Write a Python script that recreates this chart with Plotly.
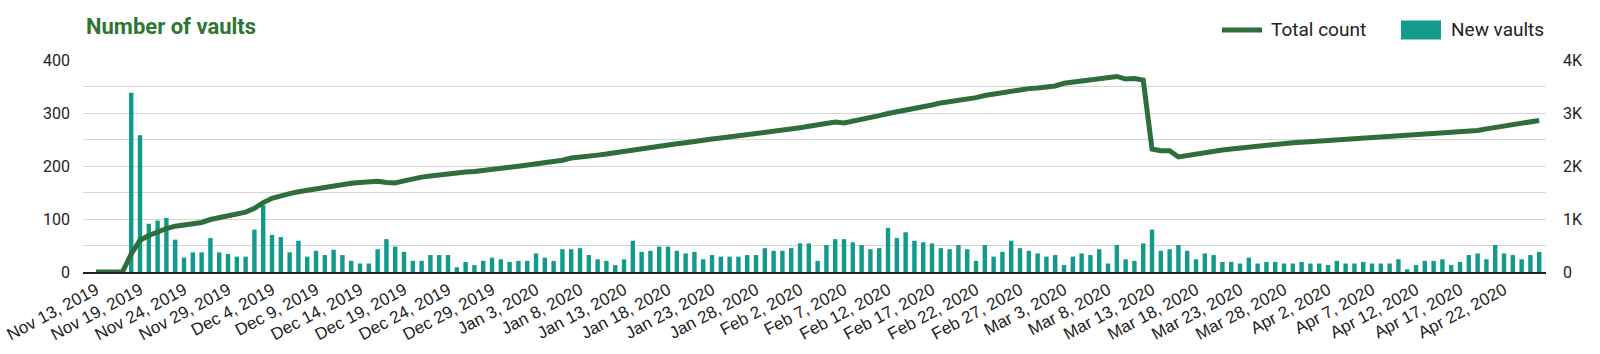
import plotly.graph_objects as go
import pandas as pd

# ---- data ----
dates = ["2019-11-13"] + pd.date_range("2019-11-15", "2020-04-26").strftime("%Y-%m-%d").tolist()

new_vaults = [
    0, 0, 0, 0, 338, 258, 91, 97, 102, 61,
    27, 37, 37, 64, 37, 34, 29, 29, 80, 126,
    70, 66, 37, 59, 29, 40, 32, 42, 32, 21,
    16, 16, 43, 62, 48, 38, 21, 21, 32, 32,
    32, 9, 19, 13, 21, 27, 24, 19, 21, 21,
    35, 27, 21, 43, 43, 45, 32, 24, 21, 13,
    24, 59, 38, 40, 48, 48, 40, 35, 38, 24,
    32, 29, 29, 29, 32, 32, 45, 40, 40, 45,
    54, 54, 21, 51, 62, 62, 56, 51, 43, 45,
    83, 64, 75, 59, 56, 54, 45, 43, 51, 43,
    21, 51, 29, 38, 59, 45, 40, 35, 29, 32,
    13, 29, 35, 32, 43, 16, 51, 24, 21, 54,
    80, 40, 43, 51, 40, 24, 35, 32, 19, 19,
    16, 27, 16, 19, 19, 16, 16, 19, 16, 16,
    13, 21, 16, 16, 19, 16, 16, 16, 24, 5,
    13, 21, 21, 24, 13, 19, 32, 35, 24, 51,
    35, 32, 24, 32, 38,
]

total_count = [
    0, 0, 0, 0, 340, 600, 690, 760, 820, 865,
    895, 920, 935, 990, 1030, 1060, 1090, 1130, 1200, 1310,
    1390, 1440, 1480, 1515, 1545, 1575, 1600, 1630, 1655, 1675,
    1690, 1700, 1710, 1690, 1680, 1720, 1760, 1790, 1810, 1830,
    1860, 1870, 1885, 1895, 1910, 1930, 1950, 1975, 1995, 2015,
    2030, 2050, 2075, 2110, 2150, 2175, 2190, 2205, 2225, 2250,
    2290, 2310, 2330, 2350, 2370, 2400, 2420, 2440, 2470, 2490,
    2510, 2530, 2550, 2570, 2590, 2620, 2640, 2650, 2660, 2700,
    2720, 2750, 2780, 2800, 2830, 2810, 2840, 2890, 2910, 2950,
    2990, 3020, 3040, 3080, 3110, 3150, 3190, 3210, 3250, 3270,
    3290, 3330, 3360, 3390, 3420, 3440, 3460, 3470, 3490, 3510,
    3560, 3580, 3600, 3630, 3660, 3680, 3690, 3640, 3650, 3620,
    2320, 2290, 2290, 2170, 2200, 2210, 2250, 2280, 2300, 2320,
    2340, 2360, 2380, 2400, 2420, 2430, 2440, 2450, 2460, 2470,
    2490, 2500, 2510, 2520, 2540, 2550, 2560, 2560, 2565, 2570,
    2580, 2590, 2600, 2610, 2620, 2630, 2650, 2670, 2700, 2730,
    2760, 2780, 2800, 2830, 2860,
]

tick_dates = dates[::5]
tick_labels = [pd.Timestamp(d).strftime("%b ") + str(pd.Timestamp(d).day) + pd.Timestamp(d).strftime(", %Y") for d in tick_dates]

left_ticks = [0, 100, 200, 300, 400]
left_minor = [50, 150, 250, 350]
right_ticks = [0, 1000, 2000, 3000, 4000]
right_tick_text = ["0", "1K", "2K", "3K", "4K"]

# ---- style ----
BAR_COLOR = "#129a8d"
LINE_COLOR = "#2e6d3c"
TITLE_COLOR = "#2e7536"
FONT = "Roboto"

W, H = 1600, 354
ML, MR, MT, MB = 83, 54, 60, 82
PW, PH = W - ML - MR, H - MT - MB


def px(x):
    return (x - ML) / PW


def py(y):
    return (H - MB - y) / PH


fig = go.Figure()
fig.add_trace(go.Bar(x=dates, y=new_vaults, marker_color=BAR_COLOR, marker_line_width=0,
                     name="New vaults", yaxis="y", showlegend=False))
fig.add_trace(go.Scatter(x=dates, y=total_count, mode="lines", name="Total count",
                         line=dict(color=LINE_COLOR, width=5), yaxis="y2", showlegend=False))

fig.update_layout(
    width=W, height=H,
    margin=dict(l=ML, r=MR, t=MT, b=MB, pad=0, autoexpand=False),
    paper_bgcolor="white", plot_bgcolor="white",
    font=dict(family=FONT, color="#222", size=15),
    bargap=0.5,
    xaxis=dict(type="category", range=[-1.48, 164.77], tickmode="array", automargin=False,
               tickvals=tick_dates, ticktext=tick_labels, tickangle=-28,
               tickfont=dict(family="Liberation Sans", size=17, color="#222"), showgrid=False,
               showline=True, linecolor="#222", linewidth=1.5, ticks=""),
    yaxis=dict(range=[0, 400], tickvals=left_ticks, showgrid=True, gridcolor="#d4d4d4", automargin=False,
               gridwidth=1.2, zeroline=False, tickfont=dict(size=16, color="#222"),
               ticks="", ticklabelstandoff=12,
               minor=dict(tickvals=left_minor, showgrid=True, gridcolor="#d4d4d4", gridwidth=1.2)),
    yaxis2=dict(range=[0, 4000], tickvals=right_ticks, ticktext=right_tick_text, overlaying="y",
                side="right", showgrid=False, zeroline=False, tickfont=dict(size=16, color="#222"),
                ticks="", ticklabelstandoff=16, automargin=False),
    showlegend=False,
)

# title
fig.add_annotation(text="<b>Number of vaults</b>", xref="paper", yref="paper", x=px(84), y=py(27),
                   xanchor="left", yanchor="middle", showarrow=False,
                   font=dict(family=FONT, size=22, color=TITLE_COLOR))

# custom legend
fig.add_shape(type="line", xref="paper", yref="paper", x0=px(1222), x1=px(1262), y0=py(30), y1=py(30),
              line=dict(color=LINE_COLOR, width=5))
fig.add_annotation(text="Total count", xref="paper", yref="paper", x=px(1269), y=py(30),
                   xanchor="left", yanchor="middle", showarrow=False,
                   font=dict(family=FONT, size=19, color="#222"))
fig.add_shape(type="rect", xref="paper", yref="paper", x0=px(1401), x1=px(1441), y0=py(39.5), y1=py(20.5),
              fillcolor=BAR_COLOR, line=dict(width=0))
fig.add_annotation(text="New vaults", xref="paper", yref="paper", x=px(1449), y=py(30),
                   xanchor="left", yanchor="middle", showarrow=False,
                   font=dict(family=FONT, size=19, color="#222"))

fig.write_html("out.html")
